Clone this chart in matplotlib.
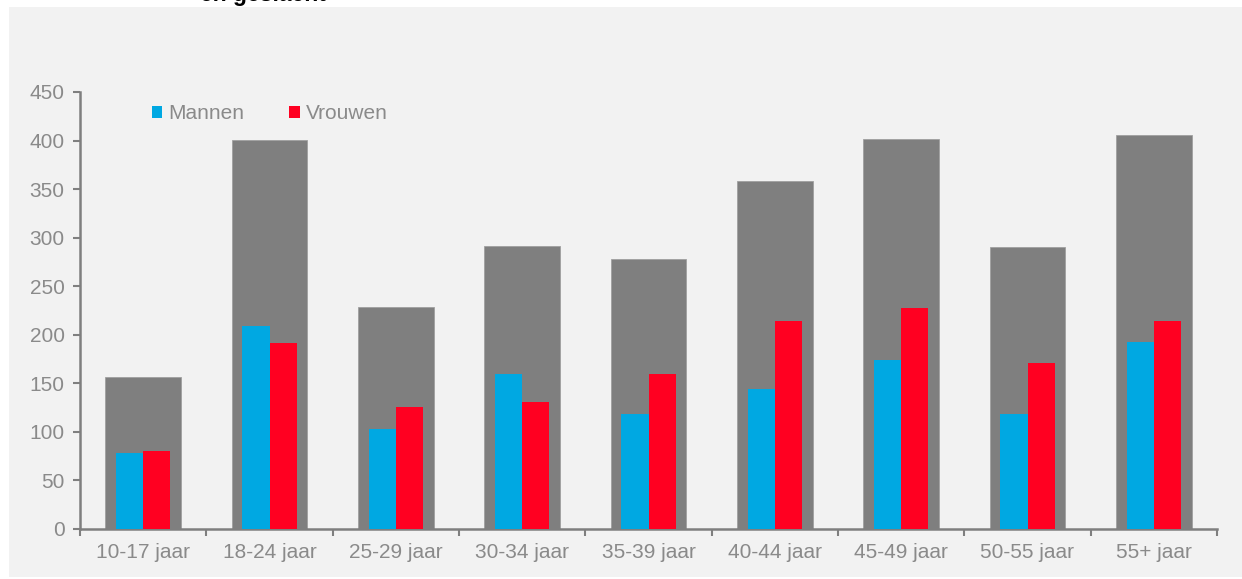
import numpy as np
import matplotlib.pyplot as plt
from matplotlib.patches import Patch, Rectangle

plt.rcParams['font.family'] = ['Liberation Sans', 'DejaVu Sans']

# Age groups and counts per group
age_groups = ['10-17 jaar', '18-24 jaar', '25-29 jaar', '30-34 jaar', '35-39 jaar',
              '40-44 jaar', '45-49 jaar', '50-55 jaar', '55+ jaar']
totaal = [157, 401, 229, 291, 278, 358, 402, 290, 406]
mannen = [78, 209, 103, 160, 118, 144, 174, 118, 193]
vrouwen = [80, 192, 126, 131, 160, 214, 228, 171, 214]

GRAY = '#7f7f7f'
BLUE = '#00a8e2'
RED = '#ff0021'
TXT = '#8a8a8a'
FS = 15

W, H = 1242, 579
fig = plt.figure(figsize=(W / 100, H / 100), dpi=100, facecolor='white')

# light panel behind the chart
fig.patches.append(Rectangle((9 / W, 2 / H), 1 - 9 / W, (577 - 7) / H,
                             transform=fig.transFigure, facecolor='#f2f2f2',
                             edgecolor='none', zorder=-10))

# title (only the bottom of the second line fits at the top edge)
fig.text(263 / W, 1 - 1.5 / H, 'en geslacht', ha='center', va='baseline',
         fontsize=16.5, fontweight='bold', color='black')

ax = fig.add_axes([80 / W, (H - 529) / H, (1217 - 80) / W, (529 - 92) / H])
ax.set_facecolor('none')
ax.set_zorder(1)

x = np.arange(len(age_groups))
ax.bar(x, totaal, width=0.6, color=GRAY, edgecolor='#a0a0a0', linewidth=0.6, zorder=2)
ax.bar(x - 0.107, mannen, width=0.214, color=BLUE, zorder=3)
ax.bar(x + 0.107, vrouwen, width=0.214, color=RED, zorder=3)

ax.set_xlim(-0.5, len(age_groups) - 0.5)
ax.set_ylim(0, 450)
ax.set_yticks(np.arange(0, 451, 50))

ax.set_xticks(x)
ax.set_xticklabels(age_groups)
ax.set_xticks(np.arange(-0.5, len(age_groups)), minor=True)
ax.tick_params(axis='x', which='major', length=0, pad=10, labelsize=FS, labelcolor=TXT)
ax.tick_params(axis='x', which='minor', length=5, width=1.5, color=GRAY, direction='out')
ax.tick_params(axis='y', length=5, width=1.5, color=GRAY, labelsize=FS,
               labelcolor=TXT, pad=6)

for side in ['top', 'right']:
    ax.spines[side].set_visible(False)
for side in ['left', 'bottom']:
    ax.spines[side].set_color(GRAY)
    ax.spines[side].set_linewidth(1.8)

handles = [Patch(facecolor=BLUE, label='Mannen'), Patch(facecolor=RED, label='Vrouwen')]
leg = ax.legend(handles=handles, ncol=2, frameon=False, loc='center left',
                bbox_to_anchor=(0.063, 0.95), handlelength=0.5, handleheight=0.5,
                handletextpad=0.3, columnspacing=2.15, fontsize=FS, borderaxespad=0,
                borderpad=0)
for t in leg.get_texts():
    t.set_color(TXT)

fig.savefig('out.png', dpi=100, facecolor='white')
